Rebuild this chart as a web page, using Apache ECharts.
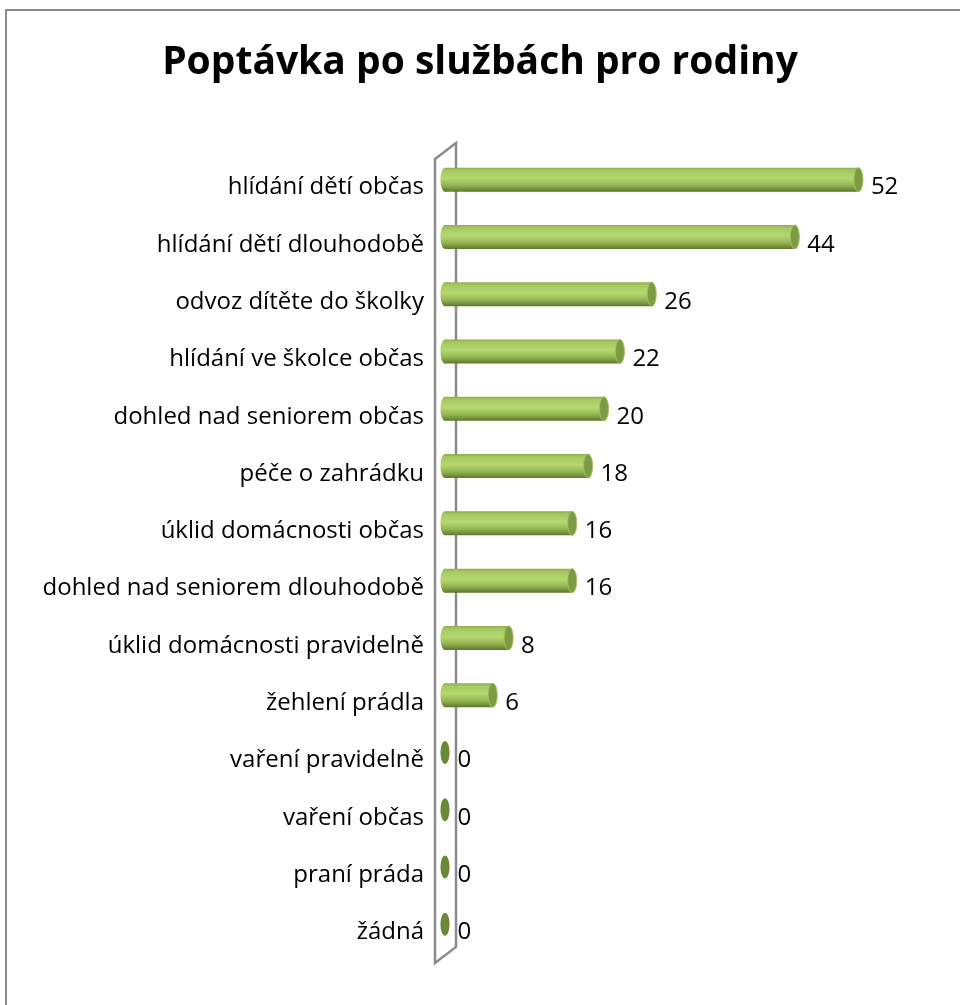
<!DOCTYPE html>
<html>
<head>
<meta charset="utf-8">
<script src="https://cdn.jsdelivr.net/npm/echarts@6/dist/echarts.min.js"></script>
<style>
  html, body { margin: 0; padding: 0; background: #fff; }
  #main { width: 960px; height: 1005px; }
</style>
</head>
<body>
<div id="main"></div>
<script>
var categories = [
    'hlídání dětí občas',
    'hlídání dětí dlouhodobě',
    'odvoz dítěte do školky',
    'hlídání ve školce občas',
    'dohled nad seniorem občas',
    'péče o zahrádku',
    'úklid domácnosti občas',
    'dohled nad seniorem dlouhodobě',
    'úklid domácnosti pravidelně',
    'žehlení prádla',
    'vaření pravidelně',
    'vaření občas',
    'praní práda',
    'žádná'
]
var values = [52, 44, 26, 22, 20, 18, 16, 16, 8, 6, 0, 0, 0, 0]

var FONT = '"Open Sans", "Noto Sans", sans-serif'
var DEPTH_X = 21   // 3D depth of the wall
var DEPTH_Y = 16

var chart = echarts.init(document.getElementById('main'))

// cylinder bar: body + left end + right cap + value text
function renderCylinder(params, api) {
    var idx = api.value(0)
    var val = api.value(1)
    var start = api.coord([0, idx])
    var end = api.coord([val, idx])
    var cy = start[1] - 8
    var h = 24
    var rx = 4.5
    var bodyFill = {
        type: 'linear', x: 0, y: 0, x2: 0, y2: 1,
        colorStops: [
            { offset: 0, color: '#8dab4b' },
            { offset: 0.12, color: '#a6c862' },
            { offset: 0.45, color: '#b6d870' },
            { offset: 0.75, color: '#92b352' },
            { offset: 1, color: '#5c782b' }
        ]
    }
    var children = []
    if (val > 0) {
        children.push({
            type: 'ellipse',
            shape: { cx: start[0], cy: cy, rx: rx, ry: h / 2 },
            style: { fill: bodyFill }
        })
        children.push({
            type: 'rect',
            shape: { x: start[0], y: cy - h / 2, width: end[0] - start[0], height: h },
            style: { fill: bodyFill }
        })
        children.push({
            type: 'ellipse',
            shape: { cx: end[0], cy: cy, rx: rx, ry: h / 2 },
            style: { fill: '#7d9b43', stroke: '#a3c262', lineWidth: 1 }
        })
    } else {
        children.push({
            type: 'ellipse',
            shape: { cx: start[0], cy: cy, rx: rx, ry: h / 2 - 0.5 },
            style: { fill: '#6a8836' }
        })
    }
    children.push({
        type: 'text',
        style: {
            x: end[0] + rx + 8,
            y: start[1],
            text: String(val),
            fill: '#000',
            font: '24px ' + FONT,
            align: 'left',
            verticalAlign: 'middle'
        }
    })
    return { type: 'group', children: children }
}

var option = {
    backgroundColor: '#fff',
    animation: false,
    title: {
        text: 'Poptávka po službách pro rodiny',
        left: 'center',
        top: 38,
        textStyle: {
            fontFamily: FONT,
            fontSize: 39,
            fontWeight: 'bold',
            color: '#000'
        }
    },
    grid: {
        left: 445,
        right: 38,
        top: 159,
        bottom: 44
    },
    xAxis: {
        type: 'value',
        min: 0,
        max: 60,
        show: false
    },
    yAxis: {
        type: 'category',
        data: categories,
        inverse: true,
        axisLine: { show: false },
        axisTick: { show: false },
        splitLine: { show: false },
        axisLabel: {
            margin: 21,
            fontFamily: FONT,
            fontSize: 24,
            color: '#000'
        }
    },
    series: [{
        type: 'custom',
        renderItem: renderCylinder,
        encode: { x: 1, y: 0 },
        data: values.map(function (v, i) { return [i, v] })
    }]
}
chart.setOption(option)

// outer frame + the 3D wall at the category axis
var p0 = chart.convertToPixel({ gridIndex: 0 }, [0, 0])
var gridRect = chart.getModel().getComponent('grid', 0).coordinateSystem.getRect()
var wallX = p0[0] - 10
var wallTop = gridRect.y
var wallBottom = gridRect.y + gridRect.height + 2
chart.setOption({
    graphic: [
        {
            type: 'rect',
            shape: { x: 6, y: 10, width: 1200, height: 1200 },
            style: { fill: 'none', stroke: '#898989', lineWidth: 2 },
            silent: true
        },
        {
            type: 'polygon',
            z: -1,
            shape: {
                points: [
                    [wallX, wallTop],
                    [wallX + DEPTH_X, wallTop - DEPTH_Y],
                    [wallX + DEPTH_X, wallBottom - DEPTH_Y],
                    [wallX, wallBottom]
                ]
            },
            style: { fill: 'none', stroke: '#8c8c8c', lineWidth: 2.5 },
            silent: true
        }
    ]
})

window.addEventListener('resize', function () {
    chart.resize()
})
</script>
</body>
</html>
